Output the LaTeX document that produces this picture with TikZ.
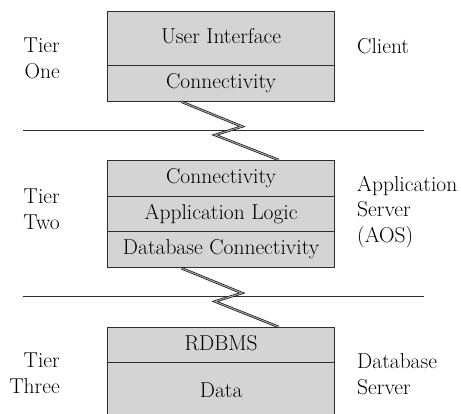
\documentclass[tikz,border=0pt]{standalone}
\usetikzlibrary{calc}
\definecolor{boxgray}{HTML}{D4D4D4}
\definecolor{edgegray}{HTML}{2E2E2E}
\definecolor{boltgray}{HTML}{A0A0A0}
\begin{document}
\begin{tikzpicture}[x=1pt,y=-1pt,
  every node/.style={font=\fontsize{21.5}{25.5}\selectfont},
  row/.style={draw=edgegray, fill=boxgray, line width=1.2pt, minimum width=227pt,
    inner sep=0pt, anchor=north west, text height=14.5pt, text depth=4pt},
  leftlbl/.style={align=right, anchor=base east, inner sep=0pt},
  rightlbl/.style={align=left, anchor=base west, inner sep=0pt},
  divider/.style={draw=edgegray, line width=1pt},
  bolt/.style={draw=black, line width=0.6pt, double=boltgray, double distance=1.2pt, line join=miter}]
\useasboundingbox (0,0) rectangle (461,413);
\clip (0,0) rectangle (461,413);
% tier one
\node[row, minimum height=54pt] (ui) at (107,11) {User Interface};
\node[row, minimum height=35.5pt] (conn1) at (107,65) {Connectivity};
% tier two
\node[row, minimum height=36pt] (conn2) at (107,160) {Connectivity};
\node[row, minimum height=35pt] (logic) at (107,196) {Application Logic};
\node[row, minimum height=36pt] (dbconn) at (107,231) {Database Connectivity};
% tier three
\node[row, minimum height=35pt] (rdbms) at (107,327) {RDBMS};
\node[row, minimum height=60pt] (data) at (107,362) {Data};
% dividers
\coordinate (d1l) at (23,130); \coordinate (d1r) at (424,130);
\coordinate (d2l) at (23,296); \coordinate (d2r) at (424,296);
\draw[divider] (d1l) -- (d1r);
\draw[divider] (d2l) -- (d2r);
% bolts
\draw[bolt] ($(conn1.south west)!0.326!(conn1.south east)$) -- (242,126.5) -- (215,135)
  -- ($(conn2.north west)!0.753!(conn2.north east)$);
\draw[bolt] ($(dbconn.south west)!0.326!(dbconn.south east)$) -- (242,293) -- (215,301.5)
  -- ($(rdbms.north west)!0.753!(rdbms.north east)$);
% labels
\node[leftlbl] (t1) at (60,78) {Tier\\One};
\node[leftlbl] (t2) at (60,229) {Tier\\Two};
\node[leftlbl] (t3) at (60,393) {Tier\\Three};
\node[rightlbl] (r1) at (357,53) {Client};
\node[rightlbl] (r2) at (357,242) {Application\\Server\\(AOS)};
\node[rightlbl] (r3) at (357,394) {Database\\Server};
\end{tikzpicture}
\end{document}
